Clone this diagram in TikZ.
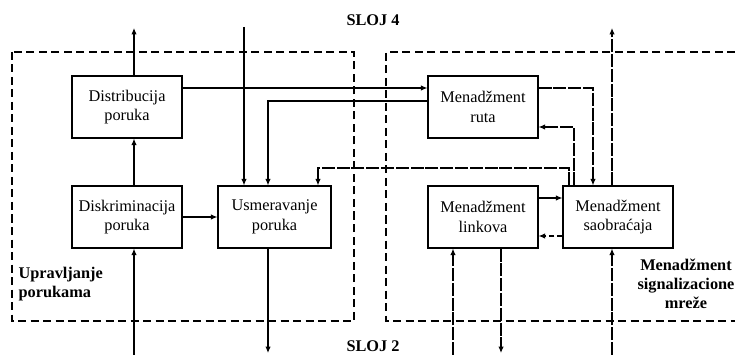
\documentclass[tikz,border=0pt]{standalone}
\usepackage{fontspec}
\setmainfont{Liberation Serif}
\usetikzlibrary{arrows.meta}
\begin{document}
\begin{tikzpicture}[x=1pt,y=-1pt,line width=1.1pt,
  >={Latex[length=6.5pt,width=5.5pt]},
  box/.style={draw,line width=1.2pt,minimum width=110pt,minimum height=62pt,inner sep=0pt,align=center,font=\fontsize{16.3}{19.5}\selectfont},
  lbl/.style={font=\fontsize{16.3}{18.8}\selectfont\bfseries,inner sep=0pt},
  frame/.style={dash pattern=on 8pt off 4.5pt,line width=1.1pt},
  ldash/.style={dash pattern=on 13pt off 1.8pt},
  sdash/.style={dash pattern=on 5pt off 3pt}]
\useasboundingbox (0,0) rectangle (735,355);
% frames
\draw[frame] (12,52) rectangle (354,321);
\draw[frame] (735,52) -- (386,52) -- (386,321) -- (735,321);
% boxes
\node[box] (dist) at (127,107) {Distribucija\\poruka};
\node[box] (disk) at (127,217) {Diskriminacija\\poruka};
\node[box,minimum width=113pt] (usm) at (274.5,217) {Usmeravanje\\poruka};
\node[box] (ruta) at (483,107) {Menadžment\\ruta};
\node[box] (link) at (483,217) {Menadžment\\linkova};
\node[box] (saob) at (618,217) {Menadžment\\saobraćaja};
% labels
\node[lbl] (sloj4) at (373,20) {SLOJ 4};
\node[lbl,anchor=base] (sloj2) at (373,351) {SLOJ 2};
\node[lbl,align=left,anchor=west] (upr) at (18,284) {Upravljanje\\porukama};
\node[lbl,align=center] (msm) at (686,284) {Menadžment\\signalizacione\\mreže};
% coordinates
\coordinate (dtop) at (134,28);
\coordinate (dbot) at (134,355);
\coordinate (s4in) at (244,27);
\coordinate (ubot) at (268,353);
\coordinate (r1) at (0,88);
\coordinate (r2) at (268,101);
\coordinate (r3) at (318,168);
\coordinate (c569) at (569,168);
\coordinate (c593) at (593,88);
\coordinate (c574) at (574,127);
\coordinate (c612) at (612,28);
\coordinate (c612b) at (612,355);
\coordinate (y198) at (0,198);
\coordinate (y236) at (0,236);
\coordinate (l453) at (453,355);
\coordinate (l501) at (501,353);
% connectors left
\draw[->] (dtop |- dist.north) -- (dtop);
\draw[->] (dtop |- disk.north) -- (dtop |- dist.south);
\draw[->] (dbot) -- (dbot |- disk.south);
\draw[->] (disk.east) -- (usm.west);
\draw[->] (s4in) -- (s4in |- usm.north);
\draw[->] (ubot |- usm.south) -- (ubot);
\draw[->] (dist.east |- r1) -- (ruta.west |- r1);
\draw[->] (ruta.west |- r2) -- (r2) -- (r2 |- usm.north);
% connectors right
\draw[ldash,->] (c569 |- saob.north) -- (c569) -- (r3) -- (r3 |- usm.north);
\draw[ldash,->] (ruta.east |- c593) -- (c593) -- (c593 |- saob.north);
\draw[ldash,->] (c574 |- saob.north) -- (c574) -- (ruta.east |- c574);
\draw[ldash,->] (c612 |- saob.north) -- (c612);
\draw[ldash,->] (c612b) -- (c612b |- saob.south);
\draw[->] (link.east |- y198) -- (saob.west |- y198);
\draw[sdash,->] (saob.west |- y236) -- (link.east |- y236);
\draw[ldash,->] (l453) -- (l453 |- link.south);
\draw[ldash,->] (l501 |- link.south) -- (l501);
\end{tikzpicture}
\end{document}
